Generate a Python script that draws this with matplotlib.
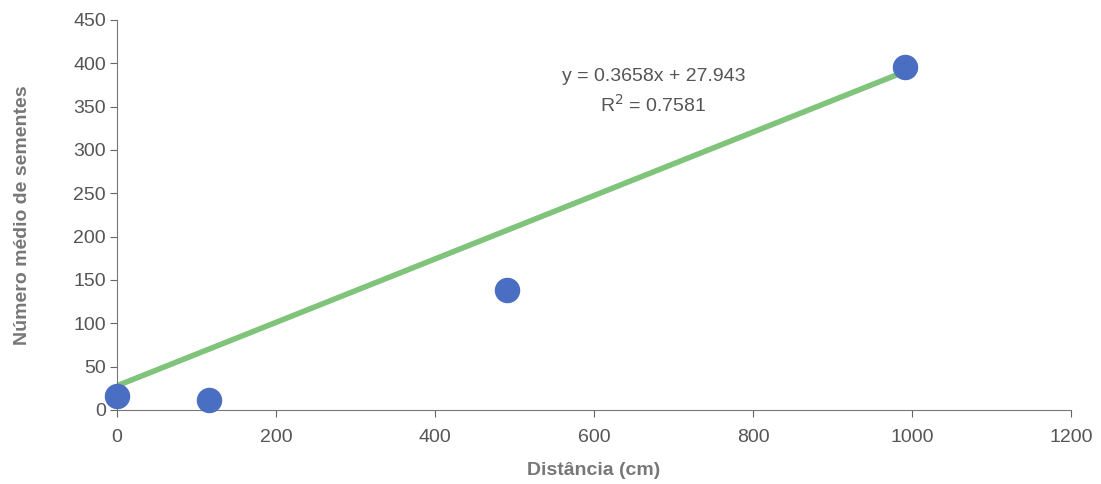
import numpy as np
import matplotlib
matplotlib.use("Agg")
import matplotlib.pyplot as plt

plt.rcParams["font.family"] = ["Liberation Sans", "DejaVu Sans"]

# mean seed count by distance
distance = [0, 116, 490, 991]
seeds = [16, 12, 138, 396]
slope = 0.3658
intercept = 27.943
r2 = 0.7581

x_ticks = [0, 200, 400, 600, 800, 1000, 1200]
y_ticks = [0, 50, 100, 150, 200, 250, 300, 350, 400, 450]

fig = plt.figure(figsize=(11.01, 4.84), dpi=100)
ax = fig.add_axes([117 / 1101, 1 - 410 / 484, (1071 - 117) / 1101, (410 - 20) / 484])

fit_x = np.array([min(distance), max(distance) - 6])
ax.plot(fit_x, slope * fit_x + intercept, color="#7fc47a", lw=4, solid_capstyle="butt", zorder=2)
ax.scatter(distance, seeds, s=300, color="#4a6fc2", zorder=3, clip_on=False)

ax.text(675, 385, f"y = {slope}x + {intercept}", ha="center", va="center", fontsize=14, color="#555555")
ax.text(675, 352, f"R$^2$ = {r2}", ha="center", va="center", fontsize=14, color="#555555")

ax.set_xlim(0, 1200)
ax.set_ylim(0, 450)
ax.set_xticks(x_ticks)
ax.set_yticks(y_ticks)
ax.tick_params(colors="#666666", labelsize=14, length=5, labelcolor="#555555")
ax.tick_params(axis="x", pad=9)
ax.tick_params(axis="y", pad=3)
for side in ["top", "right"]:
    ax.spines[side].set_visible(False)
for side in ["left", "bottom"]:
    ax.spines[side].set_color("#777777")

ax.set_xlabel("Distância (cm)", fontsize=14, fontweight="bold", color="#777777", labelpad=11)
ax.set_ylabel("Número médio de sementes", fontsize=14, fontweight="bold", color="#777777", labelpad=30)

fig.savefig("out.png", dpi=100)
plt.close(fig)
